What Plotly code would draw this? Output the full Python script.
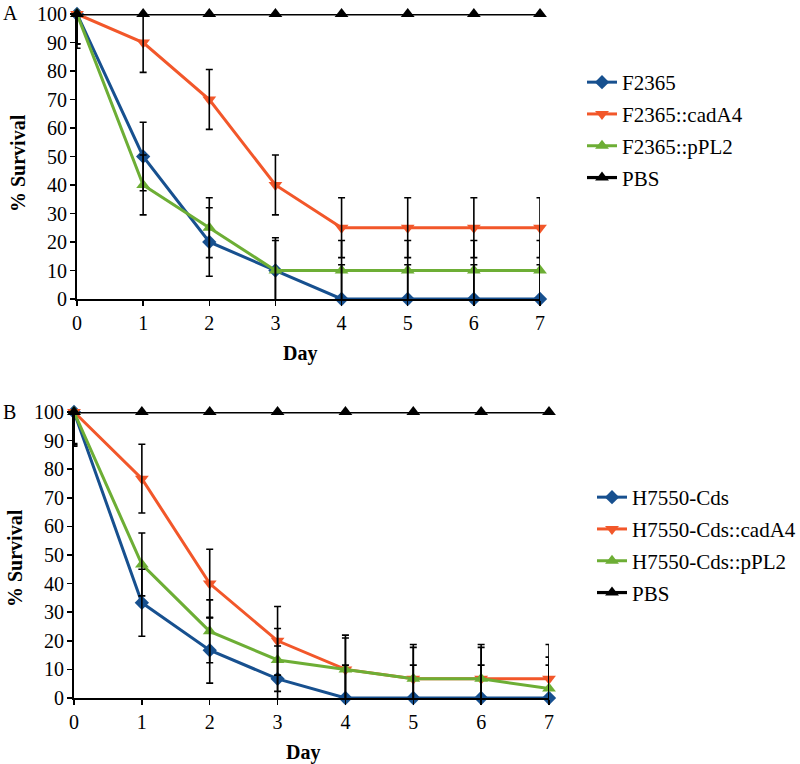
import plotly.graph_objects as go

days = [0, 1, 2, 3, 4, 5, 6, 7]

# Panel A
a_names = ["F2365", "F2365::cadA4", "F2365::pPL2", "PBS"]
a_f2365 = [100, 50, 20, 10, 0, 0, 0, 0]
a_f2365_err = [12, 12, 12, 11.5, 12, 12, 12, 12]
a_cada4 = [100, 90, 70, 40, 25, 25, 25, 25]
a_cada4_err = [10.5, 10.5, 10.5, 10.5, 10.5, 10.5, 10.5, 10.5]
a_ppl2 = [100, 40, 25, 10, 10, 10, 10, 10]
a_ppl2_err = [10.5, 10.5, 10.5, 10.5, 10.5, 10.5, 10.5, 10.5]
a_pbs = [100, 100, 100, 100, 100, 100, 100, 100]

# Panel B
b_names = ["H7550-Cds", "H7550-Cds::cadA4", "H7550-Cds::pPL2", "PBS"]
b_cds = [100, 33.3, 16.7, 6.7, 0, 0, 0, 0]
b_cds_err = [11.5, 11.7, 11.5, 11.5, 11.5, 11.5, 11.5, 11.5]
b_cada4 = [100, 76.7, 40, 20, 10, 6.7, 6.7, 6.7]
b_cada4_err = [12, 12, 12, 12, 12, 12, 12, 12]
b_ppl2 = [100, 46.7, 23.3, 13.3, 10, 6.7, 6.7, 3.3]
b_ppl2_err = [11, 11, 11, 11, 11, 11, 11, 11]
b_pbs = [100, 100, 100, 100, 100, 100, 100, 100]

BLUE = "#17508F"
ORANGE = "#F2572A"
GREEN = "#6DAE35"
BLACK = "#000000"
FONT = "Liberation Serif"

W, H = 800, 764


def px(x):
    return x / W


def py(y):
    return 1 - y / H


fig = go.Figure()

styles = [
    (BLUE, "diamond", 11),
    (ORANGE, "triangle-down", 12),
    (GREEN, "triangle-up", 12),
]


def add_panel(xa, ya, legend, tag, names, series, errs, pbs):
    for i, ((color, sym, size), name, vals) in enumerate(
            zip(styles, names[:3], series)):
        fig.add_trace(go.Scatter(
            x=days, y=vals, name=name, mode="lines+markers",
            line=dict(color=color, width=3),
            marker=dict(symbol=sym, size=size, color=color),
            xaxis=xa, yaxis=ya, legend=legend, legendgroup=f"{tag}{i}",
            cliponaxis=False, hoverinfo="skip",
        ))
    for vals, err in zip(series, errs):
        fig.add_trace(go.Scatter(
            x=days, y=vals, mode="markers", showlegend=False,
            marker=dict(size=1, color="rgba(0,0,0,0)"),
            error_y=dict(type="data", array=err, visible=True,
                         color=BLACK, thickness=1.6, width=3.5),
            xaxis=xa, yaxis=ya, cliponaxis=True, hoverinfo="skip",
        ))
    fig.add_trace(go.Scatter(
        x=days, y=pbs, name=names[3], mode="lines+markers",
        line=dict(color=BLACK, width=3.2),
        marker=dict(symbol="triangle-up", size=12, color=BLACK),
        xaxis=xa, yaxis=ya, legend=legend, legendgroup=f"{tag}3",
        cliponaxis=False, hoverinfo="skip",
    ))


add_panel("x", "y", "legend", "a", a_names, [a_f2365, a_cada4, a_ppl2],
          [a_f2365_err, a_cada4_err, a_ppl2_err], a_pbs)
add_panel("x2", "y2", "legend2", "b", b_names, [b_cds, b_cada4, b_ppl2],
          [b_cds_err, b_cada4_err, b_ppl2_err], b_pbs)

tickfont = dict(family=FONT, size=20, color=BLACK)
xcommon = dict(range=[0, 7], dtick=1, tick0=0, showline=True, linecolor=BLACK,
               linewidth=2, ticks="outside", ticklen=5, tickwidth=1.5,
               tickcolor=BLACK, showgrid=False, zeroline=False,
               tickfont=tickfont, fixedrange=True, automargin=False)
ycommon = dict(range=[0, 100], dtick=10, tick0=0, showline=True,
               linecolor=BLACK, linewidth=2, ticks="outside", ticklen=5,
               tickwidth=1.5, tickcolor=BLACK, showgrid=False,
               zeroline=False, tickfont=tickfont, fixedrange=True,
               automargin=False, ticklabelstandoff=-1)

legfont = dict(family=FONT, size=21, color=BLACK)

fig.update_layout(
    template="none",
    width=W, height=H,
    margin=dict(l=0, r=0, t=0, b=0, pad=0, autoexpand=False),
    paper_bgcolor="white", plot_bgcolor="white",
    font=dict(family=FONT, size=20, color=BLACK),
    xaxis=dict(domain=[px(77), px(540)], anchor="y", **xcommon),
    yaxis=dict(domain=[py(299), py(14)], anchor="x", **ycommon),
    xaxis2=dict(domain=[px(74), px(549)], anchor="y2", **xcommon),
    yaxis2=dict(domain=[py(698), py(412)], anchor="x2", **ycommon),
    legend=dict(x=px(582), y=py(130), xanchor="left", yanchor="middle",
                font=legfont, bgcolor="rgba(0,0,0,0)", itemwidth=30,
                tracegroupgap=1.5, borderwidth=0),
    legend2=dict(x=px(592), y=py(545), xanchor="left", yanchor="middle",
                 font=legfont, bgcolor="rgba(0,0,0,0)", itemwidth=30,
                 tracegroupgap=1.5, borderwidth=0),
    showlegend=True,
)

ann = [
    dict(text="A", x=px(10), y=py(13)),
    dict(text="B", x=px(9), y=py(412)),
    dict(text="<b>Day</b>", x=px(300), y=py(353)),
    dict(text="<b>Day</b>", x=px(303), y=py(752)),
    dict(text="<b>% Survival</b>", x=px(18), y=py(163), textangle=-90),
    dict(text="<b>% Survival</b>", x=px(15), y=py(558), textangle=-90),
]
for a in ann:
    fig.add_annotation(xref="paper", yref="paper", showarrow=False,
                       xanchor="center", yanchor="middle",
                       font=dict(family=FONT, size=20, color=BLACK), **a)

fig.write_html(
    "out.html",
    config={"displayModeBar": False, "staticPlot": True},
    post_script="document.body.style.margin='0';"
                "document.body.style.padding='0';"
                "document.body.style.overflow='hidden';",
)
